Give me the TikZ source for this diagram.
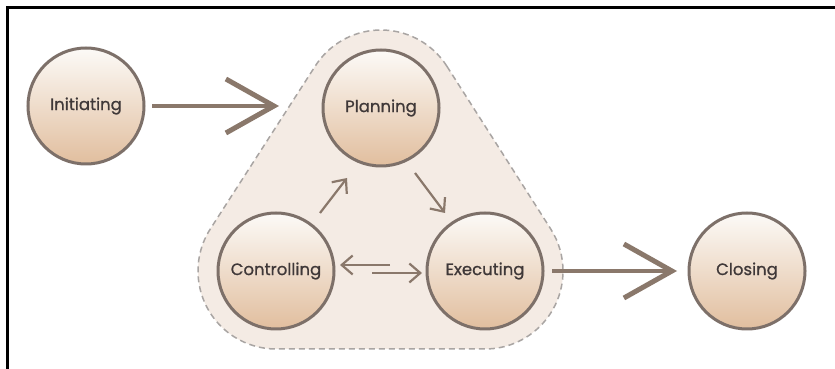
\documentclass[tikz,border=0pt]{standalone}
\usepackage{fontspec}
\setmainfont{Poppins}
\newfontfamily\phasefont{Poppins}[FakeBold=0.8]
\usetikzlibrary{arrows.meta,calc}
\definecolor{circEdge}{HTML}{7D7069}
\definecolor{circTop}{HTML}{FCFAF7}
\definecolor{circMid}{HTML}{F4E6DA}
\definecolor{circBot}{HTML}{E1BE9E}
\definecolor{txt}{HTML}{3F3838}
\definecolor{arrowCol}{HTML}{8A786B}
\definecolor{blobFill}{HTML}{F4EBE4}
\definecolor{blobEdge}{HTML}{A9A5A3}
\begin{document}
\begin{tikzpicture}[x=1pt,y=1pt,
  phase/.style={circle, minimum size=116pt, inner sep=0pt, draw=circEdge, line width=3pt,
    top color=circTop, middle color=circMid, bottom color=circBot, text=txt,
    font=\phasefont\fontsize{16.5}{18}\selectfont},
  bigarrow/.style={draw=arrowCol, line width=4pt, -{Straight Barb[length=48pt,width=54pt,line width=5pt]}},
  smallarrow/.style={draw=arrowCol, line width=2.2pt, -{Straight Barb[length=11pt,width=19pt,line width=2.2pt]}},
  blob/.style={fill=blobFill, draw=blobEdge, line width=1.5pt, dash pattern=on 6pt off 4pt},
  frameline/.style={draw=black, line width=3pt}]
\useasboundingbox (0,0) rectangle (835,369);
\fill[white] (0,0) rectangle (835,369);
\coordinate (pI) at (86,263);
\coordinate (pP) at (381,261);
\coordinate (pC) at (276,98);
\coordinate (pE) at (485,98);
\coordinate (pX) at (747,98);
\coordinate (inTip) at (279,263);
% frame
\draw[frameline] (7,0) -- (7,361) -- (835,361);
% process group
\path[blob] ($(pP)+(32.5:78pt)$) arc[start angle=32.5,end angle=147.2,radius=78pt]
  -- ($(pC)+(147.2:78pt)$) arc[start angle=147.2,end angle=270,radius=78pt]
  -- ($(pE)+(270:78pt)$) arc[start angle=270,end angle=392.5,radius=78pt] -- cycle;
% phases
\node[phase] (Init) at (pI) {Initiating};
\node[phase] (Plan) at (pP) {Planning};
\node[phase] (Ctrl) at (pC) {Controlling};
\node[phase] (Exec) at (pE) {Executing};
\node[phase] (Close) at (pX) {Closing};
% connectors
\draw[bigarrow] ([xshift=66pt]Init.center) -- (inTip);
\draw[bigarrow] ([xshift=67pt]Exec.center) -- ([xshift=-70pt]Close.center);
\draw[smallarrow] ([shift={(44pt,58pt)}]Ctrl.center) -- ([shift={(-34pt,-70pt)}]Plan.center);
\draw[smallarrow] ([shift={(34pt,-65pt)}]Plan.center) -- ([shift={(-40pt,58pt)}]Exec.center);
\draw[smallarrow] ([shift={(-95pt,6pt)}]Exec.center) -- ([shift={(64pt,6pt)}]Ctrl.center);
\draw[smallarrow] ([shift={(96pt,-2pt)}]Ctrl.center) -- ([shift={(-63pt,-2pt)}]Exec.center);
\end{tikzpicture}
\end{document}
